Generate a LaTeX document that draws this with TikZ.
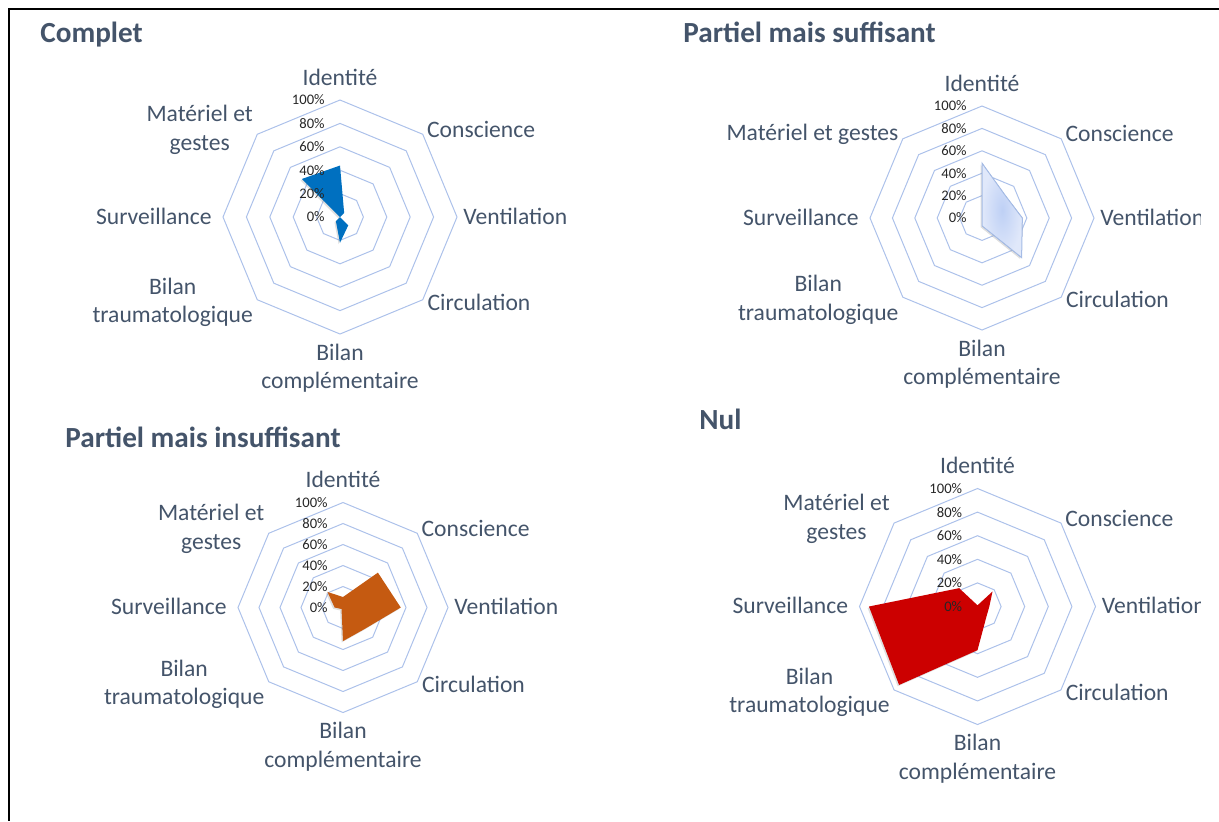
\documentclass[tikz,border=0pt]{standalone}
\usepackage{fontspec}
\setmainfont{Carlito}
\usetikzlibrary{shadows}

\definecolor{txtslate}{RGB}{68,84,106}
\definecolor{gridblue}{RGB}{172,193,234}
\definecolor{xlblue}{RGB}{0,112,192}
\definecolor{xlorange}{RGB}{197,90,17}
\definecolor{xlred}{RGB}{204,0,0}
\definecolor{palein}{RGB}{190,208,245}
\definecolor{paleout}{RGB}{224,232,250}
\definecolor{paleedge}{RGB}{165,188,230}

\tikzset{
  gridline/.style={draw=gridblue, line width=0.5pt},
  axislbl/.style={text=txtslate, font=\fontsize{11.8}{14.3}\selectfont, align=center, inner sep=0pt},
  pctlbl/.style={text=black!85, font=\fontsize{7.3}{8}\selectfont, anchor=east, inner sep=0pt},
  charttitle/.style={text=txtslate, font=\bfseries\fontsize{14.6}{17}\selectfont, anchor=base west, inner sep=0pt},
  series/.style={drop shadow={shadow xshift=-0.7pt, shadow yshift=-0.7pt, opacity=0.25}},
}

% #1 name, #2 centre, #3 radius, #4 values in %, #5 fill, #6 text of the last axis
\newcommand\radarchart[6]{%
  \begin{scope}[shift={#2}]
    % rings 20% ... 100%
    \foreach \k in {1,...,5}
      \draw[gridline] (-90:{#3*\k/5}) \foreach \a in {-45,0,...,225} {-- (\a:{#3*\k/5})} -- cycle;
    % data
    \foreach \v [count=\i from 0] in {#4}
      \coordinate (#1-p\i) at ({-90+45*\i}:{#3*\v/100});
    \fill[series, #5] (#1-p0) -- (#1-p1) -- (#1-p2) -- (#1-p3) -- (#1-p4) -- (#1-p5) -- (#1-p6) -- (#1-p7) -- cycle;
    % scale
    \foreach \k [evaluate=\k as \pc using int(20*\k)] in {0,...,5}
      \node[pctlbl] (#1-pct\k) at (-15,{-#3*\k/5}) {\pc\%};
    % axes
    \node[axislbl] (#1-id) at (0,{-#3-23}) {Identité};
    \node[axislbl, anchor=west] (#1-con) at ({0.7071*#3+4},{-0.7071*#3-5}) {Conscience};
    \node[axislbl, anchor=west] (#1-ven) at ({#3+6},-1) {Ventilation};
    \node[axislbl, anchor=west] (#1-cir) at ({0.7071*#3+4.5},{0.7071*#3+2.5}) {Circulation};
    \node[axislbl] (#1-bc) at (0,{#3+34}) {Bilan\\complémentaire};
    \node[axislbl, anchor=east] (#1-bt) at ({-0.7071*#3-4},{0.7071*#3+2.5}) {Bilan\\traumatologique};
    \node[axislbl, anchor=east] (#1-sur) at ({-#3-11},-1) {Surveillance};
    \node[axislbl, anchor=east] (#1-mat) at ({-0.7071*#3-4},{-0.7071*#3-4.5}) {#6};
  \end{scope}
}

\begin{document}
\begin{tikzpicture}[x=0.5pt,y=-0.5pt]
\useasboundingbox (0,0) rectangle (1219,821);
\draw[line width=1pt] (1219,9) -- (9,9) -- (9,821);

\begin{scope}
\clip (0,0) rectangle (1200,821);
\node[charttitle] (t-complet) at (40,42.5) {Complet};
\radarchart{complet}{(340,217)}{117}{44,5,0,10,22,5,0,46}{xlblue}{Matériel et\\gestes}

\node[charttitle] (t-suff) at (683,42.5) {Partiel mais suffisant};
\radarchart{suff}{(982,218)}{112}{49,29,36,50,7,0,0,0}{inner color=palein, outer color=paleout, draw=paleedge, line width=0.5pt}{Matériel et gestes}

\node[charttitle] (t-insuff) at (65,447.5) {Partiel mais insuffisant};
\radarchart{insuff}{(343,607.5)}{105}{10,47,55,29,32,2,8,21}{xlorange}{Matériel et\\gestes}

\node[charttitle] (t-nul) at (699,429.5) {Nul};
\radarchart{nul}{(977.5,606.5)}{118}{1,18,10,11,37,94,92,22}{xlred}{Matériel et\\gestes}
\end{scope}
\end{tikzpicture}
\end{document}
